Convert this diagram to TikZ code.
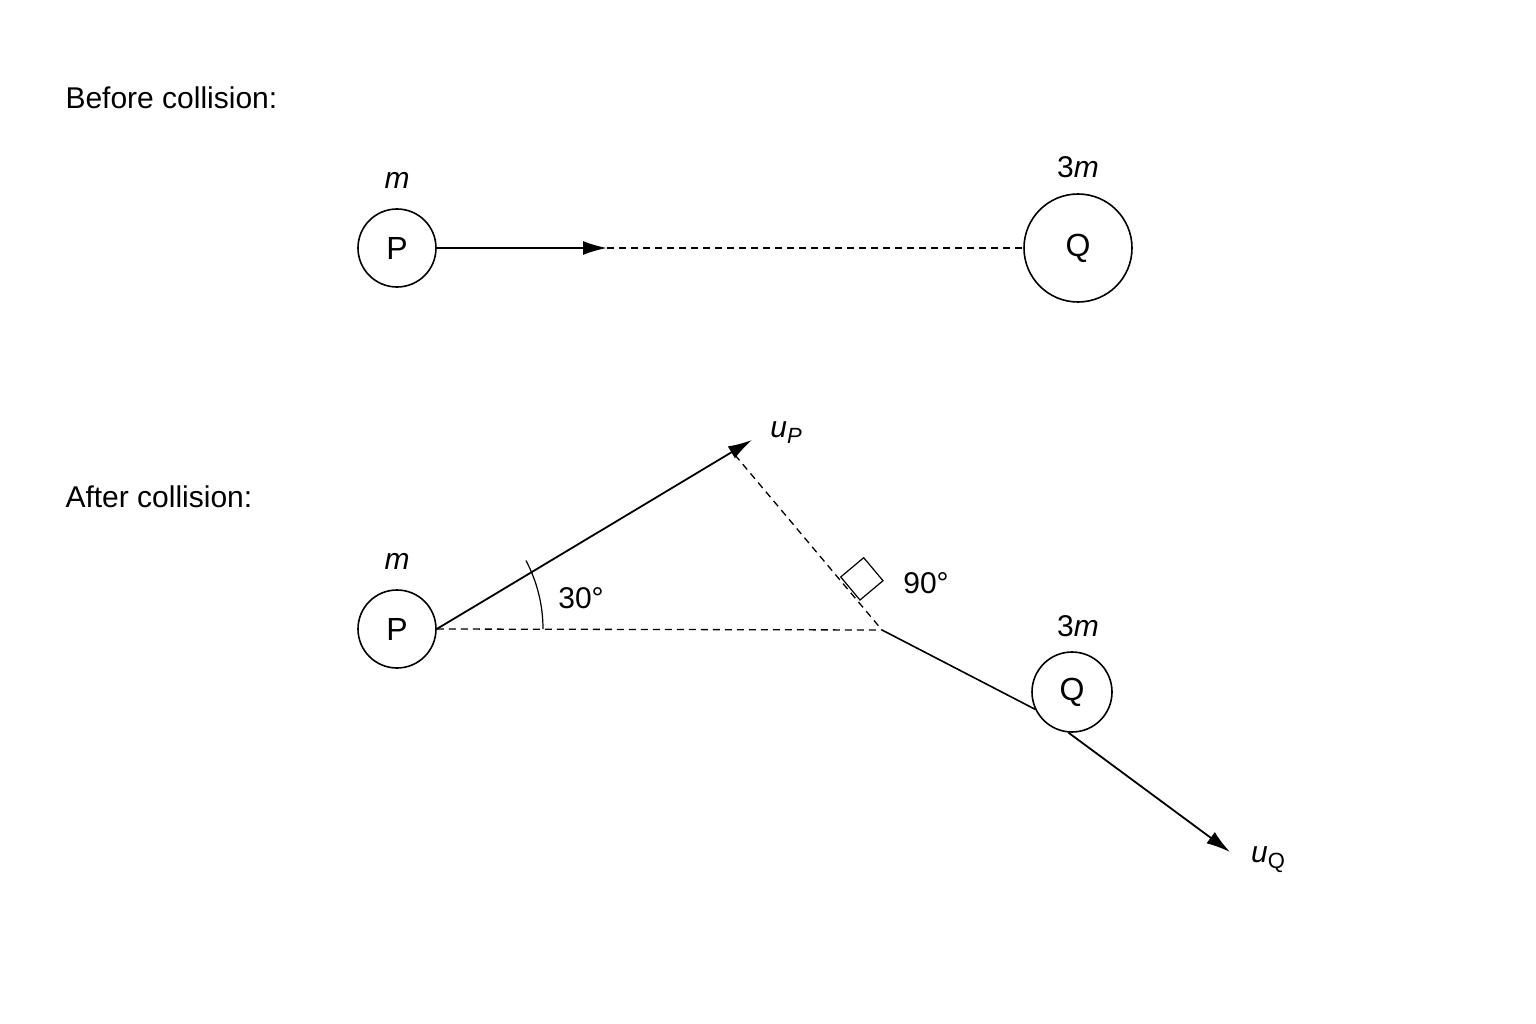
\documentclass[tikz,border=0pt]{standalone}
\usepackage{fontspec}
\setmainfont{Liberation Sans}
\begin{document}
\begin{tikzpicture}[x=1pt,y=-1pt,
  txt/.style={font=\fontsize{30}{34}\selectfont},
  ball/.style={circle,draw,line width=1.6pt,font=\fontsize{32}{36}\selectfont,inner sep=0pt},
  vec/.style={line width=1.8pt,-{Latex[length=24pt,width=14pt]}},
  dsh/.style={line width=1.3pt,dash pattern=on 7pt off 5pt},
  ln/.style={line width=1.6pt}]
\usetikzlibrary{arrows.meta}
\useasboundingbox (0,0) rectangle (1536,1024);
\node[txt,anchor=west] (t1) at (62,98) {Before collision:};
\node[txt,anchor=west] (t2) at (62,497) {After collision:};
% before
\node[ball,minimum size=78pt] (P1) at (397,248) {P};
\node[ball,minimum size=108pt] (Q1) at (1078,248) {Q};
\coordinate (a1) at (607,248);
\draw[vec] (P1.east) -- (a1);
\draw[dsh] (a1) -- (Q1.west);
\node[txt] (m1) at (397,180) {\textit{m}};
\node[txt] (m2) at (1078,167) {3\textit{m}};
% after
\node[ball,minimum size=78pt] (P2) at (397,629) {P};
\node[ball,minimum size=80pt] (Q2) at (1072,692) {Q};
\coordinate (tip) at (752,440);
\coordinate (O) at (882,630);
\coordinate (d1) at (735,455);
\coordinate (tq) at (1230,852);
\draw[vec] (P2.east) -- (tip);
\draw[dsh] (P2.east) -- (O);
\draw[dsh] (d1) -- (O);
\draw[ln] (O) -- (Q2.205);
\draw[vec] (Q2.265) -- (tq);
\draw[line width=1.2pt] (543,629) arc (0:-28:146);
\draw[line width=1.2pt] (860,600) -- (840.7,577) -- (863.7,557.7) -- (883,580.7) -- cycle;
\node[txt] (m3) at (397,561) {\textit{m}};
\node[txt] (m4) at (1078,626) {3\textit{m}};
\node[txt] (uP) at (786,433) {\textit{u}\raisebox{-6pt}{\fontsize{22}{24}\selectfont\textit{P}}};
\node[txt] (uQ) at (1268,860) {\textit{u}\raisebox{-6pt}{\fontsize{22}{24}\selectfont Q}};
\node[txt] (a30) at (581,598) {30°};
\node[txt] (a90) at (926,583) {90°};
\end{tikzpicture}
\end{document}
